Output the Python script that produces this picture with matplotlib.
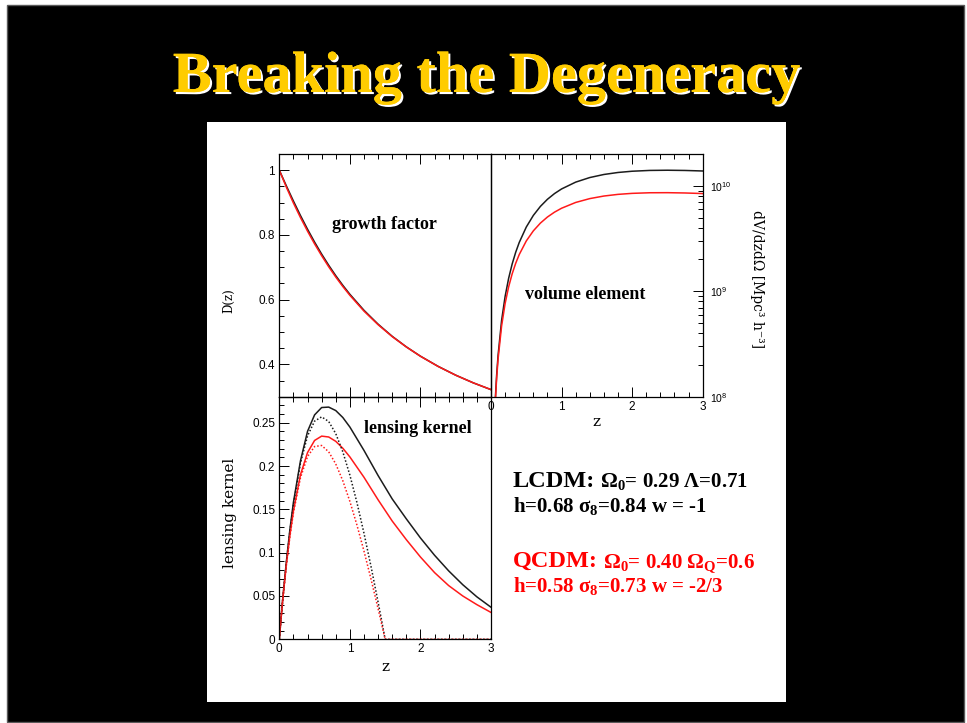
import matplotlib
matplotlib.use("Agg")
import matplotlib.pyplot as plt
import matplotlib.patheffects as pe
from matplotlib.patches import Rectangle
from matplotlib.ticker import MultipleLocator, LogLocator, NullFormatter

# growth factor D(z), normalised to 1 at z=0
z_growth = [0.0, 0.1, 0.2, 0.3, 0.4, 0.5, 0.6, 0.7, 0.8, 0.9, 1.0,
            1.2, 1.4, 1.6, 1.8, 2.0, 2.25, 2.5, 2.75, 3.0]
D_lcdm = [1.0, 0.9515, 0.9047, 0.8598, 0.8176, 0.7778, 0.7407, 0.7062, 0.6740, 0.6442, 0.6165,
          0.5670, 0.5241, 0.4866, 0.4540, 0.4252, 0.3938, 0.3665, 0.3427, 0.3218]
D_qcdm = [1.0, 0.9475, 0.8985, 0.8535, 0.8115, 0.7722, 0.7357, 0.7015, 0.6698, 0.6405, 0.6133,
          0.5645, 0.5225, 0.4857, 0.4537, 0.4250, 0.3936, 0.3664, 0.3427, 0.3220]

# comoving volume element dV/dz/dOmega in Mpc^3 h^-3
z_vol = [0.06, 0.08, 0.1, 0.15, 0.2, 0.25, 0.3, 0.35, 0.4, 0.5, 0.6, 0.7, 0.8, 0.9, 1.0,
         1.2, 1.4, 1.6, 1.8, 2.0, 2.25, 2.5, 2.75, 3.0]
dV_lcdm = [9.19e7, 1.604e8, 2.46e8, 5.276e8, 8.93e8, 1.326e9, 1.813e9, 2.341e9, 2.898e9,
           4.060e9, 5.234e9, 6.372e9, 7.444e9, 8.431e9, 9.325e9, 1.0824e10, 1.1963e10,
           1.2790e10, 1.3362e10, 1.3730e10, 1.3973e10, 1.4033e10, 1.3963e10, 1.3803e10]
dV_qcdm = [8.73e7, 1.499e8, 2.261e8, 4.672e8, 7.641e8, 1.1003e9, 1.4626e9, 1.8406e9, 2.2259e9,
           2.9956e9, 3.7353e9, 4.4251e9, 5.0546e9, 5.6201e9, 6.1216e9, 6.9443e9, 7.5546e9,
           7.9898e9, 8.2851e9, 8.4691e9, 8.5820e9, 8.5963e9, 8.5400e9, 8.4341e9]

# lensing kernel for the source distribution (solid)
z_lens = [0.0, 0.02, 0.05, 0.1, 0.15, 0.2, 0.3, 0.4, 0.5, 0.6, 0.7, 0.8, 0.9, 1.0,
          1.2, 1.4, 1.6, 1.8, 2.0, 2.2, 2.4, 2.6, 2.8, 3.0]
W_lcdm = [0.0, 0.0197, 0.048, 0.0895, 0.1265, 0.158, 0.206, 0.240, 0.259, 0.2675, 0.268, 0.264,
          0.256, 0.245, 0.218, 0.189, 0.162, 0.139, 0.117, 0.097, 0.079, 0.063, 0.049, 0.037]
W_qcdm = [0.0, 0.0196, 0.047, 0.0865, 0.120, 0.148, 0.190, 0.2155, 0.2295, 0.2345, 0.2335, 0.2285,
          0.2205, 0.2105, 0.187, 0.161, 0.1365, 0.115, 0.095, 0.077, 0.062, 0.050, 0.040, 0.031]

# lensing kernel for sources all at z = 1.5 (dotted)
z_src = [0.0, 0.02, 0.05, 0.1, 0.15, 0.2, 0.3, 0.4, 0.5, 0.6, 0.7, 0.8, 0.9, 1.0,
         1.1, 1.2, 1.3, 1.4, 1.45, 1.5, 2.0, 2.5, 3.0]
Ws_lcdm = [0.0, 0.0195, 0.0471, 0.0885, 0.1245, 0.1554, 0.2034, 0.2348, 0.2518, 0.2567, 0.2514,
           0.2374, 0.2164, 0.1895, 0.1579, 0.1224, 0.0839, 0.0429, 0.0217, 0.0, 0.0, 0.0, 0.0]
Ws_qcdm = [0.0, 0.0194, 0.0463, 0.0855, 0.1185, 0.1460, 0.1865, 0.2109, 0.2225, 0.2237, 0.2164,
           0.2024, 0.1830, 0.1592, 0.1319, 0.1018, 0.0694, 0.0354, 0.0178, 0.0, 0.0, 0.0, 0.0]

# tick positions / labels
z_ticks = [0, 1, 2, 3]
z_ticklabels = ["0", "1", "2", "3"]
D_ticks = [0.4, 0.6, 0.8, 1.0]
D_ticklabels = ["0.4", "0.6", "0.8", "1"]
W_ticks = [0, 0.05, 0.1, 0.15, 0.2, 0.25]
W_ticklabels = ["0", "0.05", "0.1", "0.15", "0.2", "0.25"]

# parameter text, one entry per line
lcdm_lines = [[("LCDM:", 17.5), (r" $\Omega_0$= 0.29 $\Lambda$=0.71", 15)],
              [("h=0.68 $\\sigma_8$=0.84 w = -1", 15)]]
qcdm_lines = [[("QCDM:", 17.5), (r" $\Omega_0$= 0.40 $\Omega_Q$=0.6", 15)],
              [("h=0.58 $\\sigma_8$=0.73 w = -2/3", 15)]]

plt.rcParams["font.family"] = ["Liberation Sans", "DejaVu Sans"]
plt.rcParams["mathtext.fontset"] = "custom"
plt.rcParams["mathtext.rm"] = "Liberation Serif:bold"
plt.rcParams["mathtext.it"] = "Liberation Serif:bold"
plt.rcParams["mathtext.bf"] = "Liberation Serif:bold"

W, H = 967, 723
BLACK = "#1c1c1c"
RED = "#ff1a1a"


def box(x0, y0, x1, y1):
    # pixel box (top-left origin) -> figure fraction rect
    return [x0 / W, 1 - y1 / H, (x1 - x0) / W, (y1 - y0) / H]


fig = plt.figure(figsize=(W / 100, H / 100), dpi=100, facecolor="white")
fig.add_artist(Rectangle((7 / W, 1 - 722 / H), 957 / W, 717 / H, transform=fig.transFigure,
                         facecolor="black", edgecolor="#5a5a5a", lw=1, zorder=0))
fig.add_artist(Rectangle((207 / W, 1 - 702 / H), 579 / W, 580 / H, transform=fig.transFigure,
                         facecolor="white", edgecolor="none", zorder=0))

fig.text(487 / W, 1 - 92 / H, "Breaking the Degeneracy", ha="center", va="baseline",
         family="Liberation Serif", weight="bold", fontsize=42, color="#ffcc00",
         path_effects=[pe.withSimplePatchShadow(offset=(1.5, -1.5), shadow_rgbFace="white",
                                                alpha=1.0), pe.Normal()])

ax_g = fig.add_axes(box(279.3, 154, 491, 396.7))
ax_v = fig.add_axes(box(491, 154, 702.7, 396.7))
ax_l = fig.add_axes(box(279.3, 396.7, 491, 639.3))

for ax in (ax_g, ax_v, ax_l):
    ax.set_facecolor("none")
    for sp in ax.spines.values():
        sp.set_linewidth(0.9)
        sp.set_color("black")
    ax.set_xlim(0, 3)
    ax.xaxis.set_minor_locator(MultipleLocator(0.2))
    ax.tick_params(which="both", direction="in", width=0.7, colors="black",
                   labelsize=8.5, pad=3)
    ax.tick_params(which="major", length=7)
    ax.tick_params(which="minor", length=3.5)

label_font = dict(family="DejaVu Serif", color="black")

# growth factor
ax_g.plot(z_growth, D_lcdm, color=BLACK, lw=1.1)
ax_g.plot(z_growth, D_qcdm, color=RED, lw=1.1)
ax_g.set_ylim(0.3, 1.05)
ax_g.set_xticks(z_ticks)
ax_g.set_yticks(D_ticks, D_ticklabels)
ax_g.yaxis.set_minor_locator(MultipleLocator(0.05))
ax_g.tick_params(which="both", top=True, bottom=True, left=True, right=False,
                 labelbottom=False)
ax_g.set_ylabel("D(z)", fontsize=8.5, va="center", **label_font)
ax_g.yaxis.set_label_coords(-0.239, 0.395)
ax_g.text(0.249, 0.690, "growth factor", transform=ax_g.transAxes, va="baseline",
          family="Liberation Serif", weight="bold", fontsize=13)

# volume element
ax_v.plot(z_vol, dV_lcdm, color=BLACK, lw=1.1)
ax_v.plot(z_vol, dV_qcdm, color=RED, lw=1.1)
ax_v.set_yscale("log")
ax_v.set_ylim(1e8, 2e10)
ax_v.set_xticks(z_ticks, z_ticklabels)
ax_v.yaxis.set_major_locator(LogLocator(base=10))
ax_v.yaxis.set_minor_locator(LogLocator(base=10, subs=range(2, 10)))
ax_v.yaxis.set_minor_formatter(NullFormatter())
ax_v.tick_params(which="both", top=True, bottom=True, left=False, right=True,
                 labelleft=False, labelright=True)
ax_v.tick_params(axis="y", labelsize=7.5, pad=5)
ax_v.yaxis.set_label_position("right")
ax_v.set_ylabel("dV/dzdΩ [Mpc³ h⁻³]", fontsize=10, rotation=-90, va="center", **label_font)
ax_v.yaxis.set_label_coords(1.255, 0.485)
ax_v.set_xlabel("z", fontsize=11, va="center", **label_font)
ax_v.xaxis.set_label_coords(0.5, -0.105)
ax_v.text(0.161, 0.401, "volume element", transform=ax_v.transAxes, va="baseline",
          family="Liberation Serif", weight="bold", fontsize=13)

# lensing kernel
ax_l.plot(z_lens, W_lcdm, color=BLACK, lw=1.1)
ax_l.plot(z_lens, W_qcdm, color=RED, lw=1.1)
ax_l.plot(z_src, Ws_lcdm, color=BLACK, lw=1.1, ls=(0, (1, 1.3)))
ax_l.plot(z_src, Ws_qcdm, color=RED, lw=1.1, ls=(0, (1, 1.3)))
ax_l.set_ylim(0, 0.28)
ax_l.set_xticks(z_ticks, z_ticklabels)
ax_l.set_yticks(W_ticks, W_ticklabels)
ax_l.yaxis.set_minor_locator(MultipleLocator(0.01))
ax_l.tick_params(which="both", top=True, bottom=True, left=True, right=False)
ax_l.set_ylabel("lensing kernel", fontsize=11, va="center", **label_font)
ax_l.yaxis.set_label_coords(-0.234, 0.5225)
ax_l.set_xlabel("z", fontsize=11, va="center", **label_font)
ax_l.xaxis.set_label_coords(0.5, -0.113)
ax_l.text(0.399, 0.849, "lensing kernel", transform=ax_l.transAxes, va="baseline",
          family="Liberation Serif", weight="bold", fontsize=13)

# cosmological parameters, pieces laid out along a shared baseline
renderer = fig.canvas.get_renderer()


def write_line(x, y, pieces, color):
    for s, size in pieces:
        t = fig.text(x / W, 1 - y / H, s, fontsize=size, color=color, va="baseline",
                     family="Liberation Serif", weight="bold")
        x = t.get_window_extent(renderer).x1


for (line, y) in zip(lcdm_lines, [486.7, 511.7]):
    write_line(512.7, y, line, "black")
for (line, y) in zip(qcdm_lines, [566.7, 591.7]):
    write_line(512.7, y, line, "#ff0000")

fig.savefig("out.png", dpi=100, facecolor=fig.get_facecolor())
